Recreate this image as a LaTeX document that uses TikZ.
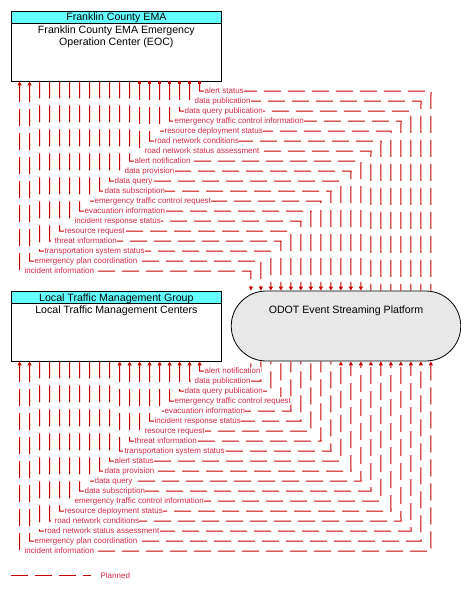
\documentclass[tikz,border=0pt]{standalone}
\usepackage{fontspec}
\setmainfont{Liberation Sans}
\usetikzlibrary{arrows.meta}
\definecolor{flowred}{RGB}{196,0,0}
\definecolor{lblred}{RGB}{210,40,70}
\definecolor{hdrcyan}{RGB}{102,255,255}
\definecolor{odotgray}{RGB}{232,232,232}
\tikzset{
  flow/.style={draw=flowred, line width=1pt, dash pattern=on 17pt off 7pt},
  lbl/.style={font=\fontsize{8}{9}\selectfont, text=lblred, fill=white, inner sep=0.4pt, anchor=base west},
  box/.style={draw=black, line width=0.8pt, fill=white, minimum width=210.7pt, minimum height=70pt, inner sep=0pt},
  hdr/.style={draw=black, line width=0.8pt, fill=hdrcyan, minimum width=210.7pt, minimum height=12pt, inner sep=0pt, anchor=north west},
  ttl/.style={font=\fontsize{10.6}{12}\selectfont, anchor=base, inner sep=0pt},
  tipA/.style={-{Triangle[length=4pt,width=4pt]}},
  tipB/.style={{Triangle[length=4pt,width=4pt]}-{Triangle[length=4pt,width=4pt]}},
  tipS/.style={{Square[length=2.3pt,width=3.3pt]}-},
  tipL/.style={{Triangle[length=4pt,width=4pt]}-},
}
\begin{document}
\begin{tikzpicture}[x=1pt,y=-1pt]
\useasboundingbox (0,0) rectangle (461,590);
% nodes
\node[box] (eoc) at (116.35,46) {};
\node[hdr] (eochdr) at (eoc.north west) {};
\node[box] (ltm) at (116.35,326) {};
\node[hdr] (ltmhdr) at (ltm.north west) {};
\node[draw=black, line width=0.8pt, fill=odotgray, rounded corners=35pt, minimum width=229.5pt, minimum height=70pt, inner sep=0pt] (odot) at (346,326) {};
\node[ttl] (eochdrt) at (116.35,20.3) {Franklin County EMA};
\node[ttl] (eocname1) at (116.35,33.5) {Franklin County EMA Emergency};
\node[ttl] (eocname2) at (116.35,45.5) {Operation Center (EOC)};
\node[ttl] (ltmhdrt) at (116.35,301) {Local Traffic Management Group};
\node[ttl] (ltmname) at (116.35,313.3) {Local Traffic Management Centers};
\node[ttl] (odotname) at (346,313.3) {ODOT Event Streaming Platform};
% top flows (EOC <-> ODOT)
\foreach \lab/\tp [count=\i from 0] in {
  incident information/tipB,
  emergency plan coordination/tipB,
  transportation system status/tipA,
  threat information/tipA,
  resource request/tipA,
  incident response status/tipA,
  evacuation information/tipA,
  emergency traffic control request/tipA,
  data subscription/tipA,
  data query/tipA,
  data provision/tipA,
  alert notification/tipA,
  road network status assessment/tipS,
  road network conditions/tipS,
  resource deployment status/tipS,
  emergency traffic control information/tipS,
  data query publication/tipS,
  data publication/tipS,
  alert status/tipS} {
  \pgfmathsetmacro\dxe{9+10*\i}
  \pgfmathsetmacro\dxo{20+10*\i}
  \pgfmathsetmacro\xo{251+10*\i}
  \pgfmathsetmacro\yl{271-10*\i}
  \draw[flow,\tp] ([xshift=\dxe pt]eoc.south west) |- (\xo,\yl) -- ([xshift=\dxo pt]odot.north west);
}
\foreach \lab [count=\i from 0] in {
  incident information,
  emergency plan coordination,
  transportation system status,
  threat information,
  resource request,
  incident response status,
  evacuation information,
  emergency traffic control request,
  data subscription,
  data query,
  data provision,
  alert notification,
  road network status assessment,
  road network conditions,
  resource deployment status,
  emergency traffic control information,
  data query publication,
  data publication,
  alert status} {
  \pgfmathsetmacro\xl{24+10*\i}
  \pgfmathsetmacro\yb{273.2-10*\i}
  \node[lbl] (tl\i) at (\xl,\yb) {\lab};
}
% bottom flows (LTM <-> ODOT)
\foreach \lab/\tp [count=\j from 0] in {
  alert notification/tipL,
  data publication/tipL,
  data query publication/tipL,
  emergency traffic control request/tipL,
  evacuation information/tipL,
  incident response status/tipL,
  resource request/tipL,
  threat information/tipL,
  transportation system status/tipL,
  alert status/tipA,
  data provision/tipA,
  data query/tipA,
  data subscription/tipA,
  emergency traffic control information/tipA,
  resource deployment status/tipA,
  road network conditions/tipA,
  road network status assessment/tipA,
  emergency plan coordination/tipB,
  incident information/tipB} {
  \pgfmathsetmacro\dxl{189-10*\j}
  \pgfmathsetmacro\dxo{20+10*\j}
  \pgfmathsetmacro\xo{251+10*\j}
  \pgfmathsetmacro\yl{371+10*\j}
  \draw[flow,\tp] ([xshift=\dxl pt]ltm.south west) |- (\xo,\yl) -- ([xshift=\dxo pt]odot.south west);
}
\foreach \lab [count=\j from 0] in {
  alert notification,
  data publication,
  data query publication,
  emergency traffic control request,
  evacuation information,
  incident response status,
  resource request,
  threat information,
  transportation system status,
  alert status,
  data provision,
  data query,
  data subscription,
  emergency traffic control information,
  resource deployment status,
  road network conditions,
  road network status assessment,
  emergency plan coordination,
  incident information} {
  \pgfmathsetmacro\xl{204-10*\j}
  \pgfmathsetmacro\yb{373.2+10*\j}
  \node[lbl] (bl\j) at (\xl,\yb) {\lab};
}
% legend
\coordinate (lgA) at (11,575.7);
\coordinate (lgB) at (91,575.7);
\draw[flow] (lgA) -- (lgB);
\node[lbl, fill=none] (lgt) at (100,578.5) {Planned};
\end{tikzpicture}
\end{document}
